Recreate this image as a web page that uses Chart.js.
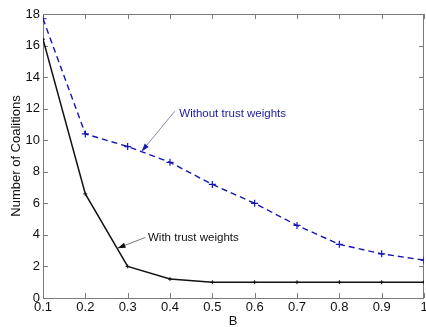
<!DOCTYPE html>
<html>
<head>
<meta charset="utf-8">
<script src="https://cdn.jsdelivr.net/npm/chart.js@4"></script>
<style>
  body { margin: 0; background: #fff; }
  #wrap { width: 426px; height: 327px; }
</style>
</head>
<body>
<div id="wrap"><canvas id="chartCoal"></canvas></div>
<script>
// values
var bValues = [0.1, 0.2, 0.3, 0.4, 0.5, 0.6, 0.7, 0.8, 0.9, 1.0];
var withoutTrust = [17.7, 10.4, 9.6, 8.6, 7.2, 6.0, 4.6, 3.4, 2.8, 2.4];
var withTrust = [16.4, 6.6, 2.0, 1.2, 1.0, 1.0, 1.0, 1.0, 1.0, 1.0];
var xTickLabels = ["0.1", "0.2", "0.3", "0.4", "0.5", "0.6", "0.7", "0.8", "0.9", "1"];
var yTickValues = [0, 2, 4, 6, 8, 10, 12, 14, 16, 18];

var FONT = "Liberation Sans, Arial, sans-serif";

function arrow(ctx, x1, y1, x2, y2, lineCol, headCol) {
    ctx.strokeStyle = lineCol;
    ctx.lineWidth = 0.8;
    ctx.beginPath();
    ctx.moveTo(x1, y1);
    ctx.lineTo(x2, y2);
    ctx.stroke();
    var a = Math.atan2(y2 - y1, x2 - x1);
    var len = 8, w = 2.6;
    ctx.fillStyle = headCol;
    ctx.beginPath();
    ctx.moveTo(x2, y2);
    ctx.lineTo(x2 - len * Math.cos(a) + w * Math.sin(a), y2 - len * Math.sin(a) - w * Math.cos(a));
    ctx.lineTo(x2 - len * Math.cos(a) - w * Math.sin(a), y2 - len * Math.sin(a) + w * Math.cos(a));
    ctx.closePath();
    ctx.fill();
}

// the matlab axes box runs to the canvas edge, so the last "1" gets clipped
function zeroPadding() {
    this.paddingLeft = 0;
    this.paddingRight = 0;
    this.paddingTop = 0;
    this.paddingBottom = 0;
}

const frame = {
    id: "frame",
    beforeDatasetsDraw(chart) {
        const { ctx, chartArea: a, scales } = chart;
        ctx.save();
        ctx.strokeStyle = "#7a7a7a";
        ctx.lineWidth = 1;
        ctx.strokeRect(a.left + 0.5, a.top + 0.5, a.right - a.left - 1, a.bottom - a.top);
        ctx.beginPath();
        bValues.forEach(function (v) {
            var px = Math.round(scales.x.getPixelForValue(v)) + 0.5;
            ctx.moveTo(px, a.bottom); ctx.lineTo(px, a.bottom - 5);
            ctx.moveTo(px, a.top); ctx.lineTo(px, a.top + 5);
        });
        yTickValues.forEach(function (v) {
            var py = Math.round(scales.y.getPixelForValue(v)) + 0.5;
            ctx.moveTo(a.left, py); ctx.lineTo(a.left + 5, py);
            ctx.moveTo(a.right, py); ctx.lineTo(a.right - 5, py);
        });
        ctx.stroke();
        ctx.restore();
    },
    afterDraw(chart) {
        const { ctx, chartArea: a, scales } = chart;
        const x = scales.x, y = scales.y;
        ctx.save();
        // axis titles
        ctx.fillStyle = "#111";
        ctx.font = "13px " + FONT;
        ctx.textAlign = "center";
        ctx.textBaseline = "middle";
        ctx.fillText("B", 233, 321);
        ctx.save();
        ctx.translate(16, (a.top + a.bottom) / 2);
        ctx.rotate(-Math.PI / 2);
        ctx.fillText("Number of Coalitions", 0, 0);
        ctx.restore();

        // annotations
        ctx.font = "11.5px " + FONT;
        ctx.textAlign = "left";
        arrow(ctx, x.getPixelForValue(0.411), y.getPixelForValue(11.83),
              x.getPixelForValue(0.333), y.getPixelForValue(9.29), "#6b6b9a", "#1a1ab0");
        ctx.fillStyle = "#1a1aa0";
        ctx.fillText("Without trust weights", x.getPixelForValue(0.422), y.getPixelForValue(11.7));

        arrow(ctx, x.getPixelForValue(0.342), y.getPixelForValue(3.84),
              x.getPixelForValue(0.276), y.getPixelForValue(3.16), "#555", "#111");
        ctx.fillStyle = "#111";
        ctx.fillText("With trust weights", x.getPixelForValue(0.348), y.getPixelForValue(3.82));
        ctx.restore();
    }
};

var ctx = document.getElementById("chartCoal").getContext("2d");

const chartCoal = new Chart(ctx, {
    type: "line",
    data: {
    datasets: [
        {
        label: "Without trust weights",
        data: bValues.map(function (b, i) { return { x: b, y: withoutTrust[i] }; }),
        borderColor: "#1414b4",
        borderWidth: 1.4,
        borderDash: [6, 4],
        pointStyle: "cross",
        pointRadius: 3.5,
        pointBorderColor: "#1414b4",
        pointBorderWidth: 1.2,
        fill: false,
        tension: 0,
        },
        {
        label: "With trust weights",
        data: bValues.map(function (b, i) { return { x: b, y: withTrust[i] }; }),
        borderColor: "#111",
        borderWidth: 1.5,
        pointStyle: "cross",
        pointRadius: 2,
        pointBorderColor: "#111",
        pointBorderWidth: 1,
        fill: false,
        tension: 0,
        },
    ],
    },
    options: {
    responsive: true,
    maintainAspectRatio: false,
    animation: false,
    layout: {
        autoPadding: false,
        padding: { top: 14, right: 2, left: 0, bottom: 0 },
    },
    plugins: {
        legend: { display: false },
        tooltip: { enabled: false },
    },
    scales: {
        x: {
        type: "linear",
        min: 0.1,
        max: 1.0,
        afterBuildTicks: function (scale) {
            scale.ticks = bValues.map(function (v) { return { value: v }; });
            scale._calculatePadding = zeroPadding;
        },
        afterFit: function (scale) {
            scale.height = 29;
            scale.paddingLeft = 0;
            scale.paddingRight = 0;
        },
        grid: { display: false, drawTicks: false },
        border: { display: false },
        ticks: {
            color: "#111",
            font: { family: FONT, size: 13 },
            padding: 2,
            autoSkip: false,
            maxRotation: 0,
            callback: function (v, i) { return xTickLabels[i]; },
        },
        },
        y: {
        min: 0,
        max: 18,
        afterBuildTicks: function (scale) {
            scale.ticks = yTickValues.map(function (v) { return { value: v }; });
        },
        afterFit: function (scale) { scale.width = 43; },
        grid: { display: false, drawTicks: false },
        border: { display: false },
        ticks: {
            color: "#111",
            font: { family: FONT, size: 13 },
            padding: 3,
        },
        },
    },
    },
    plugins: [frame],
});
</script>
</body>
</html>
